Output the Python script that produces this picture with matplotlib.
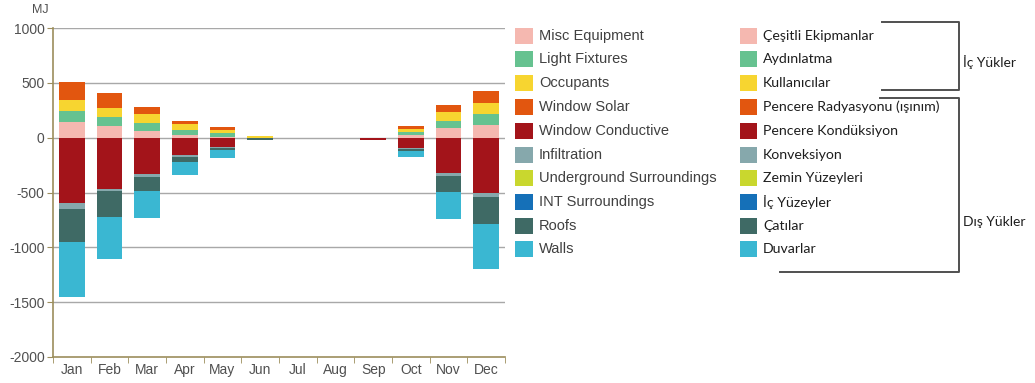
import numpy as np
import matplotlib
matplotlib.use('Agg')
import matplotlib.pyplot as plt
from matplotlib.patches import Rectangle

#----------------------------------------------------#
# Aylik yuk bilesenleri (MJ)
months = ['Jan', 'Feb', 'Mar', 'Apr', 'May', 'Jun', 'Jul', 'Aug', 'Sep', 'Oct', 'Nov', 'Dec']

misc_equipment = [144, 105, 62, 23, 7, 0, 0, 0, 0, 21, 85, 116]
light_fixtures = [98, 85, 73, 45, 31, 0, 0, 0, 0, 27, 70, 97]
occupants = [100, 85, 77, 55, 30, 12, 0, 0, 0, 27, 82, 100]
window_solar = [167, 128, 69, 27, 30, 4, 0, 0, 0, 30, 61, 116]
window_conductive = [-600, -472, -327, -160, -84, -6, 0, 0, -18, -97, -325, -508]
infiltration = [-50, -16, -30, -15, -10, 0, 0, 0, 0, -6, -21, -30]
underground = [0, 0, 0, 0, 0, 0, 0, 0, 0, 0, 0, 0]
int_surroundings = [0, 0, 0, 0, 0, 0, 0, 0, 0, 0, 0, 0]
roofs = [-300, -234, -128, -46, -14, -14, 0, 0, 0, -21, -146, -252]
walls = [-502, -386, -246, -121, -73, 0, 0, 0, 0, -49, -252, -410]

labels_en = ['Misc Equipment', 'Light Fixtures', 'Occupants', 'Window Solar',
             'Window Conductive', 'Infiltration', 'Underground Surroundings',
             'INT Surroundings', 'Roofs', 'Walls']
labels_tr = ['Çeşitli Ekipmanlar', 'Aydınlatma', 'Kullanıcılar',
             'Pencere Radyasyonu (ışınım)', 'Pencere Kondüksiyon', 'Konveksiyon',
             'Zemin Yüzeyleri', 'İç Yüzeyler', 'Çatılar', 'Duvarlar']
colors = ['#F5B8B0', '#66C290', '#F7D530', '#E2560F', '#A3141A',
          '#86A8AC', '#C9D72E', '#1570B8', '#3F6A65', '#3AB7D2']

series = [misc_equipment, light_fixtures, occupants, window_solar,
          window_conductive, infiltration, underground, int_surroundings,
          roofs, walls]

#----------------------------------------------------#
fig = plt.figure(figsize=(10.35, 3.83), dpi=100)
W, H = 1035, 383
ax = fig.add_axes([53 / W, 26 / H, (505 - 53) / W, (357 - 28) / H])
ax.set_facecolor('#FFFFFF')

x = np.arange(len(months))
pos_bottom = np.zeros(len(months))
neg_bottom = np.zeros(len(months))
for vals, col in zip(series, colors):
    v = np.array(vals, dtype=float)
    pos = np.where(v > 0, v, 0)
    neg = np.where(v < 0, v, 0)
    ax.bar(x, pos, bottom=pos_bottom, width=0.69, color=col, linewidth=0, zorder=3)
    ax.bar(x, neg, bottom=neg_bottom, width=0.69, color=col, linewidth=0, zorder=3)
    pos_bottom += pos
    neg_bottom += neg

ax.set_xlim(-0.5, 11.5)
ax.set_ylim(-2000, 1000)
ax.set_yticks(np.arange(-2000, 1001, 500))
ax.set_yticklabels([str(t) for t in range(-2000, 1001, 500)])
for yv in range(-1500, 1001, 500):
    ax.axhline(yv, color='#A8A8A8', lw=1.0, zorder=1)

ax.set_xticks(x)
ax.set_xticklabels(months)
ax.set_xticks(np.arange(-0.5, 12, 1), minor=True)
ax.tick_params(axis='x', which='major', length=0, pad=4)
ax.tick_params(axis='x', which='minor', length=4, color='#9C8E5C', direction='out')
ax.tick_params(axis='y', length=4, color='#9C8E5C', direction='out', pad=2)
ax.tick_params(labelsize=10, labelcolor='#505050')
for lab in ax.get_xticklabels() + ax.get_yticklabels():
    lab.set_family('Liberation Sans')

for side in ['top', 'right']:
    ax.spines[side].set_visible(False)
for side in ['left', 'bottom']:
    ax.spines[side].set_color('#9C8E5C')
    ax.spines[side].set_linewidth(1.2)

fig.text(40 / W, 1 - 10 / H, 'MJ', ha='center', va='center', fontsize=9,
         color='#505050', family='Liberation Sans')

#----------------------------------------------------#
# Lejant ve parantezler
ov = fig.add_axes([0, 0, 1, 1])
ov.set_xlim(0, W)
ov.set_ylim(H, 0)
ov.axis('off')
ov.patch.set_alpha(0)

row_y = [36, 59, 83, 107, 131, 155, 178, 202, 226, 249]
for i in range(10):
    ov.add_patch(Rectangle((515, row_y[i] - 8), 18, 16, color=colors[i], lw=0))
    ov.text(539, row_y[i], labels_en[i], ha='left', va='center', fontsize=10.5,
            color='#404040', family='Liberation Sans')
    ov.add_patch(Rectangle((740, row_y[i] - 8), 17, 16, color=colors[i], lw=0))
    ov.text(763, row_y[i], labels_tr[i], ha='left', va='center', fontsize=10.2,
            color='#1E1E1E', family='Lato')

lc = '#505050'
ov.plot([882, 959, 959, 882], [22, 22, 90, 90], color=lc, lw=1.4)
ov.plot([880, 959, 959, 780], [98, 98, 272, 272], color=lc, lw=1.4)
ov.text(963, 62, 'İç Yükler', ha='left', va='center', fontsize=10,
        color='#1E1E1E', family='Lato')
ov.text(963, 222, 'Dış Yükler', ha='left', va='center', fontsize=10,
        color='#1E1E1E', family='Lato')

fig.savefig('out.png', dpi=100, facecolor='white')
